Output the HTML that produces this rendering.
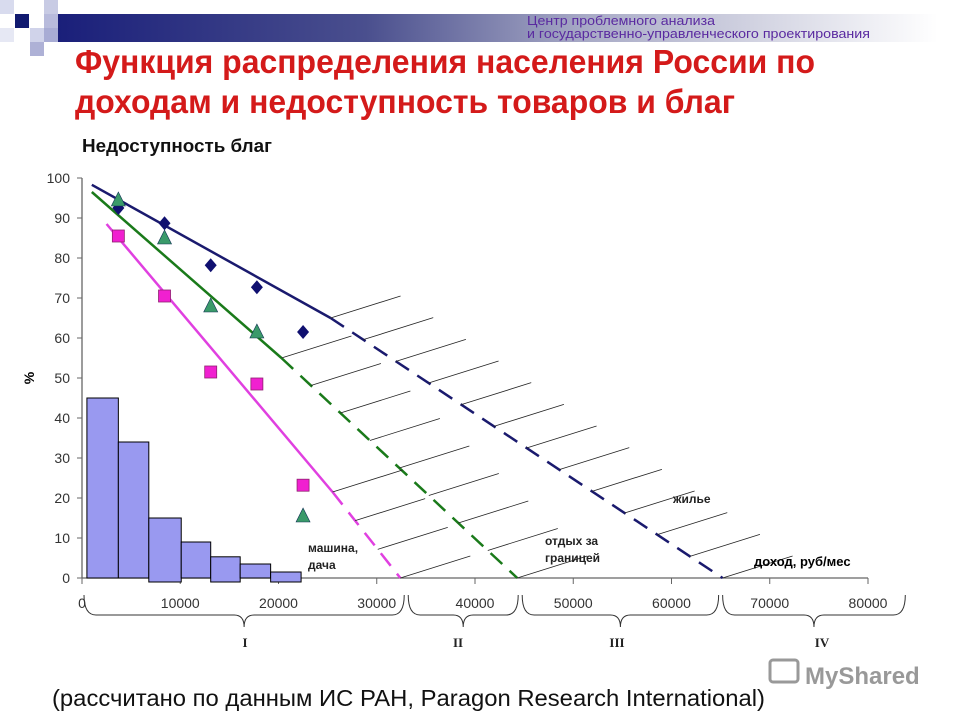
<!DOCTYPE html>
<html><head><meta charset="utf-8"><style>
body{margin:0;background:#fff;}
#wrap{position:relative;width:960px;height:720px;overflow:hidden;font-family:"Liberation Sans","DejaVu Sans",sans-serif;}
</style></head><body>
<div id="wrap">
<svg id="svg" width="960" height="720" xmlns="http://www.w3.org/2000/svg">
<defs><linearGradient id="hg" x1="0" x2="1"><stop offset="0" stop-color="#1a1f7a"/><stop offset="0.35" stop-color="#4a4f8e"/><stop offset="0.6" stop-color="#a8aac6"/><stop offset="1" stop-color="#ffffff"/></linearGradient></defs>
<g>
<rect x="58" y="14" width="880" height="28" fill="url(#hg)"/>
<rect x="0" y="0" width="14" height="14" fill="#d8dbee"/>
<rect x="15" y="14" width="14" height="14" fill="#111a70"/>
<rect x="44" y="0" width="14" height="14" fill="#c8cbe4"/>
<rect x="44" y="14" width="14" height="14" fill="#b8bbdc"/>
<rect x="30" y="28" width="14" height="14" fill="#d0d3ea"/>
<rect x="44" y="28" width="14" height="14" fill="#a8acd4"/>
<rect x="30" y="42" width="14" height="14" fill="#aeb1d6"/>
<rect x="0" y="28" width="14" height="14" fill="#e6e8f4"/>
</g>
<text x="527" y="25" font-size="13" fill="#5a2aa0" textLength="188" lengthAdjust="spacingAndGlyphs">Центр проблемного анализа</text>
<text x="527" y="38" font-size="13" fill="#5a2aa0" textLength="343" lengthAdjust="spacingAndGlyphs">и государственно-управленческого  проектирования</text>
<text x="75" y="73" font-size="33" font-weight="bold" fill="#d41a1a" textLength="740" lengthAdjust="spacingAndGlyphs">Функция распределения населения России по</text>
<text x="75" y="113" font-size="33" font-weight="bold" fill="#d41a1a" textLength="660" lengthAdjust="spacingAndGlyphs">доходам и недоступность товаров и благ</text>
<text x="82" y="152" font-size="18" font-weight="bold" fill="#111" textLength="190" lengthAdjust="spacingAndGlyphs">Недоступность благ</text>
<text x="34" y="378" font-size="14" font-weight="bold" transform="rotate(-90 34 378)" text-anchor="middle">%</text>
<g id="axes"></g>
<g id="marks"></g>
<text x="754" y="566" font-size="13" font-weight="bold">доход, руб/мес</text>
<text x="308" y="552" font-size="12" font-weight="bold" fill="#222">машина,</text>
<text x="308" y="569" font-size="12" font-weight="bold" fill="#222">дача</text>
<text x="545" y="545" font-size="12" font-weight="bold" fill="#222">отдых за</text>
<text x="545" y="562" font-size="12" font-weight="bold" fill="#222">границей</text>
<text x="673" y="503" font-size="12" font-weight="bold" fill="#222">жилье</text>
<g font-family="Liberation Serif,serif" font-size="13" font-weight="bold" fill="#222">
<text x="245" y="647" text-anchor="middle">I</text>
<text x="458" y="647" text-anchor="middle">II</text>
<text x="617" y="647" text-anchor="middle">III</text>
<text x="822" y="647" text-anchor="middle">IV</text>
</g>
<text x="52" y="706" font-size="23" fill="#111" textLength="713" lengthAdjust="spacingAndGlyphs">(рассчитано по данным ИС РАН, Paragon Research International)</text>
<g>
<rect x="770" y="660" width="28" height="22" rx="3" fill="none" stroke="#999" stroke-width="3"/>
<text x="805" y="684" font-size="24" font-weight="bold" fill="#999">MyShared</text>
</g>
</svg>
</div>
<script>
const xTicks=[0,10000,20000,30000,40000,50000,60000,70000,80000];
const yTicks=[0,10,20,30,40,50,60,70,80,90,100];
const histEdges=[500,3700,6800,10100,13100,16100,19200,22300];
const histValues=[45,34,15,9,5.3,3.5,1.5];
const pointX=[3700,8400,13100,17800,22500];
const housingPts=[92.5,88.7,78.2,72.7,61.5];
const travelPts=[94.5,85,68,61.5,15.5];
const carPts=[85.5,70.5,51.5,48.5,23.2];
const housingLine=[[1000,98.3],[25300,65],[65200,0]];
const travelLine=[[1000,96.5],[20300,55],[44300,0]];
const carLine=[[2500,88.5],[25500,21.5],[32400,0]];
const groupBounds=[0,33000,44600,65000,84000];
const X=v=>82+v*786/80000, Y=v=>578-v*4;
const NS="http://www.w3.org/2000/svg";
function mk(t,a,p){const e=document.createElementNS(NS,t);for(const k in a)e.setAttribute(k,a[k]);p.appendChild(e);return e;}
const ax=document.getElementById('axes'),mg=document.getElementById('marks');
let l=mk('line',{x1:X(0),x2:X(80000),y1:Y(0),y2:Y(0),stroke:'#666','stroke-width':1.3},ax);

l=mk('line',{x1:X(0),x2:X(0),y1:Y(0),y2:Y(100),stroke:'#666','stroke-width':1.3},ax);

xTicks.forEach(v=>{mk('line',{x1:X(v),x2:X(v),y1:Y(0),y2:Y(0)+6,stroke:'#666'},ax);
 const t=mk('text',{x:X(v),y:608,'font-size':14,'text-anchor':'middle',fill:'#333'},ax);t.textContent=v;
 });
yTicks.forEach(v=>{mk('line',{x1:X(0)-5,x2:X(0),y1:Y(v),y2:Y(v),stroke:'#666'},ax);
 const t=mk('text',{x:70,y:Y(v)+5,'font-size':14,'text-anchor':'end',fill:'#333'},ax);t.textContent=v;
 });
histValues.forEach((v,i)=>{const r=mk('rect',{x:X(histEdges[i]),y:Y(v),width:X(histEdges[i+1])-X(histEdges[i]),height:Y(0)-Y(v)+(i%2==0&&i>0?4:0),fill:'#9999f0',stroke:'#000','stroke-width':1},mg);
 });
function drawLine(pts,col,name){
 const s=mk('line',{x1:X(pts[0][0]),y1:Y(pts[0][1]),x2:X(pts[1][0]),y2:Y(pts[1][1]),stroke:col,'stroke-width':2.5},mg);
 
 const d=mk('line',{x1:X(pts[1][0]),y1:Y(pts[1][1]),x2:X(pts[2][0]),y2:Y(pts[2][1]),stroke:col,'stroke-width':2.5,'stroke-dasharray':'16 10'},mg);
 
 const x1=X(pts[1][0]),y1=Y(pts[1][1]),x2=X(pts[2][0]),y2=Y(pts[2][1]);const n=Math.round(Math.hypot(x2-x1,y2-y1)/38);
 for(let k=0;k<=n;k++){const px=x1+(x2-x1)*k/n,py=y1+(y2-y1)*k/n;
  const h=mk('line',{x1:px,y1:py,x2:px+70,y2:py-22,stroke:'#222','stroke-width':0.8},mg);
  }
}
drawLine(housingLine,'#1a1a6e','housing');drawLine(travelLine,'#1a7a1a','travel');drawLine(carLine,'#e040e0','car');
pointX.forEach((x,i)=>{
 const cx=X(x);let y=Y(housingPts[i]);
 let e=mk('polygon',{points:`${cx},${y-7} ${cx+6},${y} ${cx},${y+7} ${cx-6},${y}`,fill:'#101070'},mg);
 
 y=Y(travelPts[i]);
 e=mk('polygon',{points:`${cx},${y-8} ${cx+7},${y+6} ${cx-7},${y+6}`,fill:'#3a9a6a',stroke:'#135',"stroke-width":0.6},mg);
 
 y=Y(carPts[i]);
 e=mk('rect',{x:cx-6,y:y-6,width:12,height:12,fill:'#f020d0',stroke:'#902070','stroke-width':0.8},mg);
 
});
for(let i=0;i<4;i++){const a=X(groupBounds[i])+2,b=Math.min(X(groupBounds[i+1])-2,910),m=(a+b)/2,t=595,yy=615;
 const p=mk('path',{d:`M${a},${t} Q${a},${yy} ${a+12},${yy} L${m-10},${yy} Q${m},${yy} ${m},${yy+12} Q${m},${yy} ${m+10},${yy} L${b-12},${yy} Q${b},${yy} ${b},${t}`,fill:'none',stroke:'#333','stroke-width':1},mg);
 }
</script>
</body></html>
